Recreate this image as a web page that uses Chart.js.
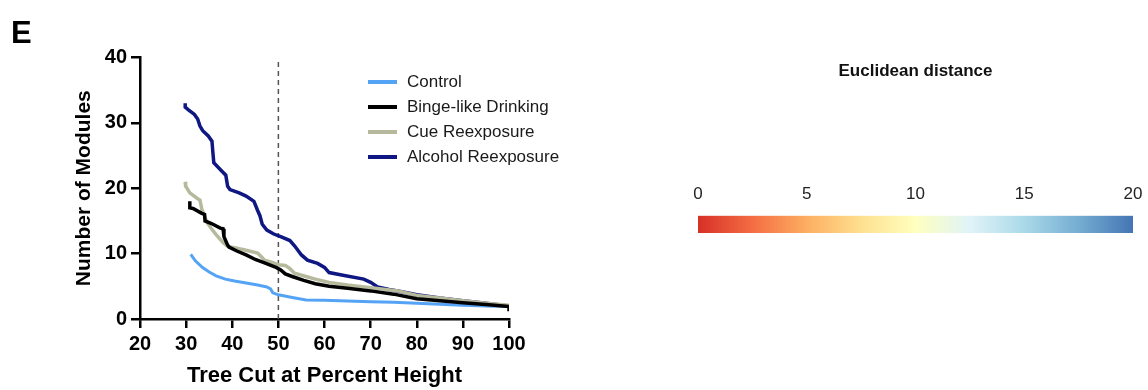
<!DOCTYPE html>
<html lang="en">

<head>
    <meta charset="UTF-8">
    <title>Number of Modules vs Tree Cut</title>
    <script src="https://cdn.jsdelivr.net/npm/chart.js"></script>
    <style>
        body {
            margin: 0;
            background: #fff;
            width: 1148px;
            height: 390px;
            position: relative;
            overflow: hidden;
        }

        #mainBox {
            position: absolute;
            left: 0;
            top: 0;
            width: 640px;
            height: 390px;
        }

        #barBox {
            position: absolute;
            left: 640px;
            top: 50px;
            width: 508px;
            height: 185px;
        }
    </style>
</head>

<body>
    <div id="mainBox"><canvas id="modulesChart"></canvas></div>
    <div id="barBox"><canvas id="colorBar"></canvas></div>

    <script>
        const FONT = 'Arial, "Liberation Sans", sans-serif';

        // series (x = tree cut %, y = number of modules)
        const controlX = [31.0, 32.0, 33.5, 35.0, 36.5, 38.5, 40.5, 43.0, 45.5, 47.5, 48.3, 48.8, 50.0, 53.0, 56.0, 60.0, 65.0, 70.0, 75.0, 80.0, 85.0, 90.0, 95.0, 100.0];
        const controlY = [9.9, 8.9, 7.9, 7.2, 6.6, 6.1, 5.8, 5.5, 5.2, 4.9, 4.6, 4.0, 3.7, 3.3, 2.9, 2.85, 2.75, 2.65, 2.55, 2.4, 2.25, 2.1, 2.0, 1.9];

        const bingeX = [30.8, 30.8, 31.5, 33.3, 34.0, 34.1, 35.5, 37.4, 38.0, 38.2, 39.0, 39.3, 41.0, 43.0, 45.0, 47.0, 49.5, 50.5, 51.5, 53.0, 55.5, 58.0, 61.0, 65.0, 70.0, 75.0, 80.0, 85.0, 90.0, 95.0, 100.0, 100.0];
        const bingeY = [18.0, 17.0, 16.9, 16.2, 16.0, 15.0, 14.6, 13.9, 13.8, 12.6, 11.3, 11.0, 10.4, 9.8, 9.1, 8.6, 7.9, 7.5, 6.9, 6.5, 5.9, 5.4, 5.0, 4.7, 4.3, 3.8, 3.1, 2.8, 2.5, 2.2, 1.9, 1.2];

        const cueX = [29.8, 29.9, 30.8, 32.5, 33.0, 33.4, 34.5, 35.5, 36.5, 38.0, 39.0, 40.5, 42.5, 45.5, 46.2, 47.0, 48.5, 50.0, 51.5, 52.5, 53.5, 56.0, 58.0, 61.0, 65.0, 70.0, 76.0, 80.0, 85.0, 90.0, 95.0, 100.0];
        const cueY = [21.0, 20.3, 19.3, 18.4, 18.2, 16.8, 14.8, 13.8, 12.9, 11.7, 11.1, 10.9, 10.6, 10.1, 9.6, 9.0, 8.7, 8.3, 8.2, 7.7, 7.0, 6.5, 6.1, 5.6, 5.2, 4.8, 4.3, 3.6, 3.2, 2.8, 2.4, 2.1];

        const alcoholX = [29.8, 29.8, 30.5, 31.8, 32.5, 33.0, 33.6, 34.8, 35.6, 35.8, 36.0, 37.5, 38.6, 39.0, 39.5, 41.5, 43.0, 44.7, 45.5, 46.0, 46.5, 47.5, 49.0, 50.5, 52.5, 53.5, 55.0, 56.3, 58.5, 60.0, 61.0, 64.0, 68.5, 70.0, 71.5, 74.0, 76.5, 80.0, 85.0, 90.0, 95.0, 100.0];
        const alcoholY = [33.0, 32.4, 32.0, 31.3, 30.6, 29.5, 28.8, 28.0, 27.2, 25.5, 23.9, 22.8, 22.0, 20.3, 19.8, 19.3, 18.8, 18.0, 16.6, 15.8, 14.5, 13.6, 13.0, 12.6, 12.0, 11.2, 9.8, 9.0, 8.5, 7.9, 7.1, 6.7, 6.1, 5.6, 4.9, 4.5, 4.2, 3.7, 3.2, 2.8, 2.4, 2.0];

        const cutLineX = [50, 50];
        const cutLineY = [0, 39.5];

        const xTicks = [20, 30, 40, 50, 60, 70, 80, 90, 100];
        const yTicks = [0, 10, 20, 30, 40];

        const barTicks = [0, 5, 10, 15, 20];
        const barColors = ['#d73027', '#f46d43', '#fdae61', '#fee090', '#ffffbf', '#e0f3f8', '#abd9e9', '#74add1', '#4575b4'];

        const toPoints = (xs, ys) => xs.map((x, i) => ({ x: x, y: ys[i] }));

        // legend drawn inside the plot, plus the panel letter
        const legendAndLetter = {
            id: 'legendAndLetter',
            afterDraw(chart) {
                const c = chart.ctx;
                c.save();
                c.fillStyle = '#000';
                c.font = 'bold 31px ' + FONT;
                c.textBaseline = 'alphabetic';
                c.fillText('E', 11, 43);

                c.font = '17px ' + FONT;
                c.textBaseline = 'middle';
                let y = 82;
                chart.data.datasets.forEach(ds => {
                    if (!ds.inLegend) return;
                    c.strokeStyle = ds.borderColor;
                    c.lineWidth = 4;
                    c.beginPath();
                    c.moveTo(368, y);
                    c.lineTo(397, y);
                    c.stroke();
                    c.fillStyle = '#1a1a1a';
                    c.fillText(ds.label, 407, y);
                    y += 25;
                });
                c.restore();
            }
        };

        const ctx = document.getElementById('modulesChart').getContext('2d');
        new Chart(ctx, {
            type: 'line',
            data: {
                datasets: [
                    { label: 'Control', data: toPoints(controlX, controlY), borderColor: '#55a3f4', borderWidth: 3, order: 4, inLegend: true },
                    { label: 'Binge-like Drinking', data: toPoints(bingeX, bingeY), borderColor: '#000000', borderWidth: 3.5, order: 1, inLegend: true },
                    { label: 'Cue Reexposure', data: toPoints(cueX, cueY), borderColor: '#b6b99b', borderWidth: 3.5, order: 2, inLegend: true },
                    { label: 'Alcohol Reexposure', data: toPoints(alcoholX, alcoholY), borderColor: '#0e1782', borderWidth: 3.5, order: 3, inLegend: true },
                    { label: 'cut', data: toPoints(cutLineX, cutLineY), borderColor: '#555', borderWidth: 1.5, borderDash: [5, 4], order: 5, inLegend: false }
                ]
            },
            options: {
                responsive: true,
                maintainAspectRatio: false,
                animation: false,
                layout: { padding: { left: 60, right: 131, top: 57.5, bottom: 0 } },
                elements: {
                    point: { radius: 0 },
                    line: { tension: 0, fill: false }
                },
                scales: {
                    x: {
                        type: 'linear',
                        min: 20,
                        max: 100,
                        afterFit: s => { s.height = 71; },
                        afterBuildTicks: s => { s.ticks = xTicks.map(v => ({ value: v })); },
                        ticks: { color: '#000', font: { family: FONT, size: 20, weight: 'bold' }, padding: 4, maxRotation: 0 },
                        grid: { drawOnChartArea: false, color: '#000', lineWidth: 2.5, tickLength: 9 },
                        border: { color: '#000', width: 2.5 },
                        title: { display: true, text: 'Tree Cut at Percent Height', color: '#000', font: { family: FONT, size: 22, weight: 'bold' }, padding: { top: 0, bottom: 1 } }
                    },
                    y: {
                        min: 0,
                        max: 40,
                        afterFit: s => { s.width = 80; },
                        afterBuildTicks: s => { s.ticks = yTicks.map(v => ({ value: v })); },
                        ticks: { color: '#000', font: { family: FONT, size: 20, weight: 'bold' }, padding: 4 },
                        grid: { drawOnChartArea: false, color: '#000', lineWidth: 2.5, tickLength: 9 },
                        border: { color: '#000', width: 2.5 },
                        title: { display: true, text: 'Number of Modules', color: '#000', font: { family: FONT, size: 21, weight: 'bold' }, padding: { top: 12, bottom: 0 } }
                    }
                },
                plugins: {
                    legend: { display: false },
                    tooltip: { enabled: false }
                }
            },
            plugins: [legendAndLetter]
        });

        // colour scale bar
        const gradientFill = {
            id: 'gradientFill',
            beforeDatasetsDraw(chart) {
                const a = chart.chartArea;
                const c = chart.ctx;
                const g = c.createLinearGradient(a.left, 0, a.right, 0);
                barColors.forEach((col, i) => g.addColorStop(i / (barColors.length - 1), col));
                c.save();
                c.fillStyle = g;
                c.fillRect(a.left, a.top, a.right - a.left, a.bottom - a.top);
                c.restore();
            }
        };

        new Chart(document.getElementById('colorBar').getContext('2d'), {
            type: 'line',
            data: { datasets: [] },
            options: {
                responsive: true,
                maintainAspectRatio: false,
                animation: false,
                layout: { padding: { left: 58, right: 15, top: 0, bottom: 2 } },
                scales: {
                    x: {
                        type: 'linear',
                        position: 'top',
                        min: 0,
                        max: 20,
                        afterBuildTicks: s => { s.ticks = barTicks.map(v => ({ value: v })); },
                        ticks: { color: '#222', font: { family: FONT, size: 17 }, padding: 3, maxRotation: 0 },
                        grid: { display: false },
                        border: { display: false }
                    },
                    y: { display: false, min: 0, max: 1 }
                },
                plugins: {
                    legend: { display: false },
                    tooltip: { enabled: false },
                    title: {
                        display: true,
                        text: 'Euclidean distance',
                        color: '#111',
                        font: { family: FONT, size: 17, weight: 'bold' },
                        padding: { top: 11, bottom: 100 }
                    }
                }
            },
            plugins: [gradientFill]
        });
    </script>
</body>

</html>
